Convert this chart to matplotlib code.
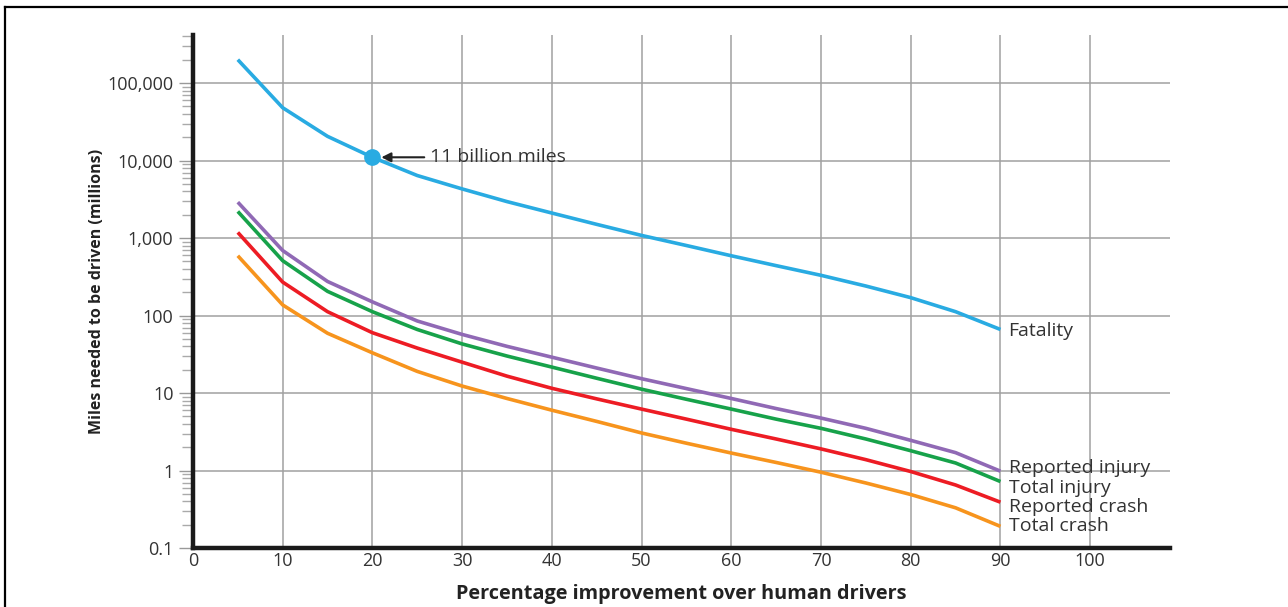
import numpy as np
import matplotlib
matplotlib.use('Agg')
import matplotlib.pyplot as plt
from matplotlib.lines import Line2D
from matplotlib.ticker import FixedLocator, LogLocator, NullFormatter

plt.rcParams['font.family'] = ['Open Sans', 'DejaVu Sans']

# data: percentage improvement and miles needed (millions)
improvement = [5, 10, 15, 20, 25, 30, 35, 40, 45, 50, 55, 60, 65, 70, 75, 80, 85, 90]
fatality = [200000, 48000, 20500, 11000, 6400, 4300, 2950, 2100, 1500, 1080,
            800, 590, 440, 330, 240, 170, 112, 66]
reported_injury = [2900, 690, 275, 150, 85, 57, 40, 29, 21, 15.3,
                   11.4, 8.5, 6.3, 4.75, 3.5, 2.45, 1.7, 0.98]
total_injury = [2200, 510, 205, 112, 66, 43, 30, 21.6, 15.5, 11.2,
                8.3, 6.2, 4.6, 3.5, 2.55, 1.8, 1.25, 0.72]
reported_crash = [1180, 270, 112, 60, 38, 25, 16.5, 11.5, 8.4, 6.2,
                  4.6, 3.4, 2.55, 1.9, 1.38, 0.97, 0.65, 0.39]
total_crash = [590, 137, 59, 33, 19, 12.3, 8.5, 6.0, 4.3, 3.05,
               2.25, 1.68, 1.27, 0.95, 0.69, 0.49, 0.33, 0.19]

series_names = ['Fatality', 'Reported injury', 'Total injury', 'Reported crash', 'Total crash']
series_colors = ['#29abe2', '#9069b5', '#17a24a', '#ed1c24', '#f7941d']
series_values = [fatality, reported_injury, total_injury, reported_crash, total_crash]
# where the end labels sit (spread apart so they don't collide)
label_y = [64, 1.08, 0.59, 0.338, 0.192]

y_ticks = [0.1, 1, 10, 100, 1000, 10000, 100000]
y_labels = ['0.1', '1', '10', '100', '1,000', '10,000', '100,000']
x_ticks = list(range(0, 101, 10))

highlight_x = 20
highlight_y = 11000
highlight_text = '11 billion miles'

fig = plt.figure(figsize=(12.88, 6.07), dpi=100)
ax = fig.add_axes([0.1498, 0.0972, 0.7586, 0.8451])

for name, vals, col, ly in zip(series_names, series_values, series_colors, label_y):
    ax.plot(improvement, vals, color=col, lw=2.6, solid_capstyle='butt', zorder=3)
    ax.text(improvement[-1] + 0.9, ly, name, color='#333333', fontsize=14,
            va='center', ha='left')

# the highlighted point
ax.plot([highlight_x], [highlight_y], 'o', color='#29abe2', ms=11, zorder=4)
ax.annotate(highlight_text, xy=(highlight_x + 1.0, highlight_y),
            xytext=(26.4, highlight_y), va='center', ha='left',
            fontsize=14, color='#333333',
            arrowprops=dict(arrowstyle='-|>', color='#222222', lw=1.5,
                            mutation_scale=14, shrinkA=2, shrinkB=0))

ax.set_yscale('log')
ax.set_ylim(0.1, 416000)
ax.set_xlim(0, 108.9)

ax.yaxis.set_major_locator(FixedLocator(y_ticks))
ax.set_yticklabels(y_labels)
ax.yaxis.set_minor_locator(LogLocator(base=10, subs=np.arange(2, 10)))
ax.yaxis.set_minor_formatter(NullFormatter())
ax.set_xticks(x_ticks)

ax.tick_params(axis='y', which='major', length=10, width=1, color='#999999',
               labelsize=13, labelcolor='#333333', pad=4)
ax.tick_params(axis='y', which='minor', length=8, width=1, color='#aaaaaa')
ax.tick_params(axis='x', length=0, labelsize=13, labelcolor='#333333', pad=3)

ax.grid(True, which='major', color='#a0a0a0', lw=1.1)
ax.set_axisbelow(True)

for s in ['top', 'right']:
    ax.spines[s].set_visible(False)
for s in ['left', 'bottom']:
    ax.spines[s].set_linewidth(3.2)
    ax.spines[s].set_color('#1a1a1a')

ax.set_ylabel('Miles needed to be driven (millions)', fontsize=11.5,
              fontweight='bold', color='#222222', labelpad=2)
ax.set_xlabel('Percentage improvement over human drivers', fontsize=14.3,
              fontweight='bold', color='#222222', labelpad=10)

# frame lines at the top and left of the picture
fig.add_artist(Line2D([5 / 1288, 1.0], [1 - 7 / 607, 1 - 7 / 607],
                      transform=fig.transFigure, color='black', lw=1.6))
fig.add_artist(Line2D([5 / 1288, 5 / 1288], [0.0, 1 - 7 / 607],
                      transform=fig.transFigure, color='black', lw=1.6))

fig.savefig('out.png', dpi=100)
